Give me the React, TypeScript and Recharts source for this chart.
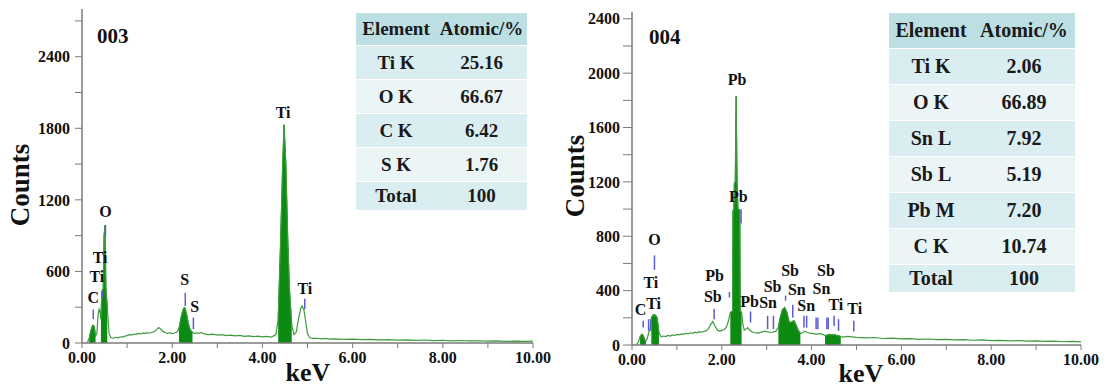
import React from "react";
import {
  ComposedChart,
  Line,
  Area,
  XAxis,
  YAxis,
  ReferenceLine,
  ReferenceDot,
} from "recharts";

const FONT = '"Liberation Serif", "Times New Roman", serif';

// [keV, counts]
const spec003 = [
  [0.12, 5], [0.16, 40], [0.2, 110], [0.24, 150], [0.27, 140], [0.3, 60], [0.33, 80],
  [0.36, 250], [0.38, 282], [0.4, 260], [0.42, 200], [0.44, 430], [0.47, 456], [0.49, 900],
  [0.51, 985], [0.53, 460], [0.56, 300], [0.6, 80], [0.64, 45], [0.7, 40], [0.75, 48],
  [0.8, 44], [0.85, 52], [0.9, 50], [0.95, 58], [1.0, 62], [1.05, 70], [1.1, 66], [1.15, 75],
  [1.2, 72], [1.25, 80], [1.3, 76], [1.35, 84], [1.4, 80], [1.45, 86], [1.5, 82], [1.55, 90],
  [1.6, 95], [1.65, 110], [1.7, 130], [1.75, 115], [1.8, 95], [1.85, 88], [1.9, 80],
  [1.95, 86], [2.0, 78], [2.05, 84], [2.1, 90], [2.15, 120], [2.2, 220], [2.25, 290],
  [2.28, 296], [2.32, 240], [2.36, 160], [2.4, 110], [2.45, 90], [2.5, 78], [2.55, 84],
  [2.6, 80], [2.65, 88], [2.7, 76], [2.8, 70], [2.9, 74], [3.0, 66], [3.1, 70], [3.2, 62],
  [3.3, 66], [3.4, 60], [3.5, 64], [3.6, 56], [3.7, 60], [3.8, 54], [3.9, 58], [4.0, 52],
  [4.1, 55], [4.2, 50], [4.3, 70], [4.35, 200], [4.4, 800], [4.45, 1500], [4.48, 1830],
  [4.52, 1500], [4.56, 900], [4.6, 450], [4.65, 150], [4.7, 70], [4.75, 90], [4.8, 200],
  [4.85, 290], [4.88, 310], [4.92, 280], [4.96, 180], [5.0, 80], [5.05, 45], [5.1, 38],
  [5.2, 40], [5.3, 34], [5.4, 38], [5.5, 32], [5.6, 35], [5.8, 30], [6.0, 33], [6.2, 28],
  [6.4, 31], [6.6, 26], [6.8, 29], [7.0, 24], [7.2, 27], [7.4, 22], [7.6, 25], [7.8, 20],
  [8.0, 23], [8.2, 18], [8.4, 21], [8.6, 17], [8.8, 19], [9.0, 15], [9.2, 18], [9.4, 14],
  [9.6, 16], [9.8, 13], [10.0, 15],
];

const spec004 = [
  [0.1, 5], [0.14, 20], [0.18, 60], [0.22, 79], [0.25, 70], [0.28, 40], [0.31, 30],
  [0.34, 45], [0.37, 90], [0.4, 110], [0.43, 200], [0.47, 222], [0.52, 220], [0.56, 200],
  [0.6, 90], [0.65, 60], [0.7, 66], [0.75, 62], [0.8, 70], [0.85, 66], [0.9, 74], [0.95, 70],
  [1.0, 78], [1.05, 74], [1.1, 82], [1.15, 78], [1.2, 86], [1.25, 82], [1.3, 90], [1.35, 86],
  [1.4, 94], [1.45, 90], [1.5, 98], [1.55, 94], [1.6, 100], [1.65, 104], [1.7, 118],
  [1.75, 150], [1.8, 173], [1.85, 140], [1.9, 110], [1.95, 102], [2.0, 108], [2.05, 112],
  [2.1, 130], [2.15, 180], [2.19, 240], [2.24, 250], [2.25, 990], [2.27, 1000], [2.28, 1190],
  [2.3, 1200], [2.31, 1530], [2.32, 1830], [2.33, 1500], [2.34, 1190], [2.36, 1000],
  [2.4, 995], [2.41, 250], [2.44, 240], [2.47, 150], [2.5, 110],
  [2.55, 120], [2.58, 128], [2.62, 110], [2.66, 100], [2.7, 92], [2.8, 88], [2.9, 96],
  [2.95, 102], [3.0, 98], [3.1, 92], [3.2, 100], [3.26, 130], [3.3, 200], [3.35, 260],
  [3.4, 277], [3.45, 240], [3.5, 170], [3.53, 165], [3.58, 175], [3.61, 178], [3.65, 150],
  [3.7, 110], [3.75, 85], [3.8, 90], [3.85, 102], [3.9, 92], [4.0, 86], [4.1, 80], [4.2, 84],
  [4.3, 70], [4.35, 72], [4.4, 78], [4.45, 74], [4.5, 76], [4.55, 72], [4.6, 68], [4.65, 62],
  [4.7, 58], [4.8, 64], [4.9, 60], [5.0, 56], [5.2, 52], [5.4, 55], [5.6, 48], [5.8, 50],
  [6.0, 45], [6.2, 47], [6.4, 42], [6.6, 44], [6.8, 40], [7.0, 42], [7.2, 37], [7.4, 39],
  [7.6, 35], [7.8, 37], [8.0, 32], [8.2, 34], [8.4, 30], [8.6, 32], [8.8, 28], [9.0, 30],
  [9.2, 26], [9.4, 28], [9.6, 24], [9.8, 26], [10.0, 23],
];

// filled (integrated) peak windows, keV
const windows003 = [[0.16, 0.3], [0.42, 0.56], [2.15, 2.45], [4.35, 4.65]];
const windows004 = [[0.16, 0.31], [0.43, 0.6], [2.19, 2.44], [3.26, 3.75], [4.3, 4.65]];

// peak labels: text, keV, counts
const labels003 = [
  ["C", 0.25, 379], ["Ti", 0.33, 558], ["Ti", 0.4, 719], ["O", 0.52, 1106],
  ["S", 2.28, 531], ["S", 2.5, 310], ["Ti", 4.46, 1931], ["Ti", 4.94, 462],
];
const labels004 = [
  ["C", 0.19, 264], ["Ti", 0.48, 306], ["Ti", 0.42, 462], ["O", 0.5, 775],
  ["Pb", 1.84, 516], ["Sb", 1.8, 356], ["Pb", 2.34, 1953], ["Pb", 2.37, 1096],
  ["Pb", 2.62, 321], ["Sb", 3.13, 430], ["Sn", 3.03, 314], ["Sb", 3.52, 548],
  ["Sn", 3.67, 412], ["Sn", 3.88, 289], ["Sb", 4.32, 548], ["Sn", 4.22, 420],
  ["Ti", 4.54, 301], ["Ti", 4.96, 272],
];

// line markers: keV, from counts, to counts
const markers003 = [
  [0.25, 200, 280], [0.45, 380, 435], [0.52, 900, 990], [2.29, 310, 420],
  [2.47, 116, 213], [4.94, 282, 370],
];
const markers004 = [
  [0.25, 128, 178], [0.37, 104, 190], [0.42, 104, 190], [0.5, 553, 659], [1.83, 190, 264],
  [2.17, 350, 390], [2.43, 894, 998], [2.64, 165, 247], [3.02, 116, 215], [3.15, 116, 215],
  [3.42, 326, 363], [3.58, 202, 296], [3.83, 128, 215], [3.89, 128, 215], [4.1, 116, 202],
  [4.14, 116, 202], [4.34, 116, 202], [4.37, 116, 202], [4.5, 140, 215], [4.6, 104, 190],
  [4.94, 99, 178],
];

const table003 = [
  ["Ti K", "25.16"], ["O K", "66.67"], ["C K", "6.42"], ["S K", "1.76"], ["Total", "100"],
];
const table004 = [
  ["Ti K", "2.06"], ["O K", "66.89"], ["Sn L", "7.92"], ["Sb L", "5.19"],
  ["Pb M", "7.20"], ["C K", "10.74"], ["Total", "100"],
];

const xTicks = [0, 1, 2, 3, 4, 5, 6, 7, 8, 9, 10];
const yTicks003 = [0, 300, 600, 900, 1200, 1500, 1800, 2100, 2400, 2700];
const yTicks004 = [0, 200, 400, 600, 800, 1000, 1200, 1400, 1600, 1800, 2000, 2200, 2400];

const tickStyle = { fill: "#111", fontSize: 16, fontWeight: "bold", fontFamily: FONT };
const AXIS = "#7a7a7a";

type Props = {
  spec: number[][];
  windows: number[][];
  labels: (string | number)[][];
  markers: number[][];
  yTicks: number[];
  yMax: number;
  yStep: number;
  width: number;
  top: number;
  right: number;
  xHeight: number;
  tickSize: number;
  tickMargin: number;
};

const Spectrum = (p: Props) => {
  const pts = p.spec.map(([e, c]) => ({ e, c }));
  return (
    <ComposedChart
      width={p.width}
      height={390}
      margin={{ top: p.top, right: p.right, left: 0, bottom: 0 }}
    >
      <XAxis
        dataKey="e"
        type="number"
        domain={[0, 10]}
        ticks={xTicks}
        interval={0}
        height={p.xHeight}
        tickFormatter={(v: number) => (v % 2 === 0 ? v.toFixed(2) : "")}
        tick={tickStyle}
        tickSize={5}
        tickMargin={4}
        stroke={AXIS}
        axisLine={{ stroke: AXIS, strokeWidth: 1.5 }}
      />
      <XAxis
        xAxisId="top"
        orientation="top"
        type="number"
        domain={[0, 10]}
        height={0}
        tick={false}
        tickLine={false}
        axisLine={{ stroke: AXIS, strokeWidth: 1.5 }}
      />
      <YAxis
        type="number"
        domain={[0, p.yMax]}
        ticks={p.yTicks}
        interval={0}
        width={82}
        tickFormatter={(v: number) => (v % p.yStep === 0 ? String(v) : "")}
        tick={tickStyle}
        tickSize={p.tickSize}
        tickMargin={p.tickMargin}
        stroke={AXIS}
        axisLine={{ stroke: AXIS, strokeWidth: 1.5 }}
      />
      <YAxis
        yAxisId="right"
        orientation="right"
        type="number"
        domain={[0, p.yMax]}
        width={0}
        tick={false}
        tickLine={false}
        axisLine={{ stroke: AXIS, strokeWidth: 1.5 }}
      />
      <Line
        data={pts}
        dataKey="c"
        type="linear"
        stroke="#3c9c3c"
        strokeWidth={1.2}
        dot={false}
        isAnimationActive={false}
      />
      {p.windows.map(([a, b], i) => (
        <Area
          key={`w-${i}`}
          data={pts.filter((d) => d.e >= a && d.e <= b)}
          dataKey="c"
          type="linear"
          stroke="#0c8a12"
          strokeWidth={1}
          fill="#0c8a12"
          fillOpacity={1}
          baseValue={0}
          isAnimationActive={false}
        />
      ))}
      {p.markers.map(([e, c1, c2], i) => (
        <ReferenceLine
          key={`m-${i}`}
          segment={[{ x: e, y: c1 }, { x: e, y: c2 }]}
          stroke="#5b5bd6"
          strokeWidth={1.5}
        />
      ))}
      {p.labels.map(([t, e, c], i) => (
        <ReferenceDot
          key={`l-${i}`}
          x={e as number}
          y={c as number}
          r={0}
          fill="none"
          stroke="none"
          label={{
            value: t as string,
            position: "center",
            fill: "#111",
            fontSize: 16,
            fontWeight: "bold",
            fontFamily: FONT,
          }}
        />
      ))}
    </ComposedChart>
  );
};

const Table = ({ rows, colW, headH, rowH, lastH, size }: { rows: string[][]; colW: number[]; headH: number; rowH: number; lastH: number; size: number }) => {
  const cell = (h: number, bg: string, w: number): React.CSSProperties => ({
    width: w,
    height: h,
    background: bg,
    display: "flex",
    alignItems: "center",
    justifyContent: "center",
    borderBottom: "1px solid #fff",
    boxSizing: "border-box",
    whiteSpace: "nowrap",
  });
  return (
    <div style={{ fontFamily: FONT, fontWeight: "bold", fontSize: size, color: "#1a1a1a" }}>
      <div style={{ display: "flex" }}>
        <div style={cell(headH, "#bcdfe3", colW[0])}>Element</div>
        <div style={cell(headH, "#bcdfe3", colW[1])}>Atomic/%</div>
      </div>
      {rows.map((r, i) => {
        const bg = i % 2 === 0 ? "#daedf0" : "#ebf5f6";
        const h = i === rows.length - 1 ? lastH : rowH;
        return (
          <div key={r[0]} style={{ display: "flex" }}>
            <div style={cell(h, bg, colW[0])}>{r[0]}</div>
            <div style={cell(h, bg, colW[1])}>{r[1]}</div>
          </div>
        );
      })}
    </div>
  );
};

const title: React.CSSProperties = {
  position: "absolute",
  fontFamily: FONT,
  fontWeight: "bold",
  color: "#111",
  lineHeight: 1,
  whiteSpace: "nowrap",
};

export default function App() {
  return (
    <div style={{ position: "absolute", left: 0, top: 0, width: 1107, height: 390, background: "#fff" }}>
      <div style={{ position: "absolute", left: 0, top: 0 }}>
        <Spectrum
          spec={spec003}
          windows={windows003}
          labels={labels003}
          markers={markers003}
          yTicks={yTicks003}
          yMax={2800}
          yStep={600}
          width={560}
          top={9}
          right={27}
          xHeight={47}
          tickSize={7}
          tickMargin={5}
        />
      </div>
      <div style={{ position: "absolute", left: 550, top: 0 }}>
        <Spectrum
          spec={spec004}
          windows={windows004}
          labels={labels004}
          markers={markers004}
          yTicks={yTicks004}
          yMax={2450}
          yStep={400}
          width={557}
          top={12}
          right={26}
          xHeight={45}
          tickSize={9}
          tickMargin={3}
        />
      </div>

      <div style={{ position: "absolute", left: 356, top: 13 }}>
        <Table rows={table003} colW={[80, 91]} headH={33} rowH={34} lastH={29} size={19} />
      </div>
      <div style={{ position: "absolute", left: 889, top: 13 }}>
        <Table rows={table004} colW={[84, 102]} headH={36} rowH={36} lastH={28} size={20} />
      </div>

      <div style={{ ...title, left: 97, top: 26, fontSize: 21 }}>003</div>
      <div style={{ ...title, left: 649, top: 27, fontSize: 21 }}>004</div>

      <div style={{ ...title, left: 20, top: 185, fontSize: 27, transform: "translate(-50%, -50%) rotate(-90deg)" }}>Counts</div>
      <div style={{ ...title, left: 575, top: 176, fontSize: 27, transform: "translate(-50%, -50%) rotate(-90deg)" }}>Counts</div>

      <div style={{ ...title, left: 308, top: 373, fontSize: 26, transform: "translate(-50%, -50%)" }}>keV</div>
      <div style={{ ...title, left: 861, top: 374, fontSize: 26, transform: "translate(-50%, -50%)" }}>keV</div>
    </div>
  );
}
